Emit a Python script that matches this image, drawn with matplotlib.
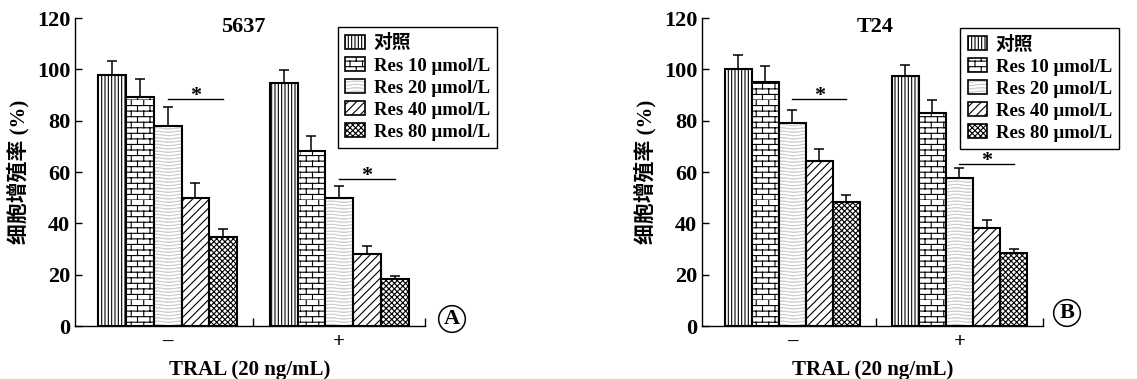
import warnings
warnings.filterwarnings('ignore')
import numpy as np
import matplotlib
matplotlib.use('Agg')
import matplotlib.pyplot as plt
import matplotlib.hatch as mhatch
from matplotlib.path import Path
from matplotlib.patches import Patch
from matplotlib.legend_handler import HandlerTuple

# ---------------- data ----------------
series_labels = ['对照', 'Res 10 μmol/L', 'Res 20 μmol/L', 'Res 40 μmol/L', 'Res 80 μmol/L']
group_labels = ['–', '+']
panel_titles = ['5637', 'T24']
panel_letters = ['A', 'B']

mean_5637_minus = [97.8, 89.2, 78.0, 49.8, 34.8]
err_5637_minus = [5.3, 7.2, 7.2, 5.9, 3.0]
mean_5637_plus = [94.8, 68.1, 49.7, 28.0, 18.3]
err_5637_plus = [5.1, 5.8, 4.9, 3.2, 1.1]

mean_t24_minus = [100.1, 95.1, 79.2, 64.1, 48.5]
err_t24_minus = [5.5, 6.1, 4.9, 5.0, 2.5]
mean_t24_plus = [97.3, 83.0, 57.7, 38.1, 28.4]
err_t24_plus = [4.5, 4.9, 3.8, 3.3, 1.5]

sig_5637 = [88.3, 57.3]   # height of significance bar (minus, plus)
sig_t24 = [88.3, 63.2]

y_ticks = [0, 20, 40, 60, 80, 100, 120]


# ---------------- custom hatches ----------------
class BrickHatch(mhatch.HatchPatternBase):
    def __init__(self, hatch, density):
        n = hatch.count('b')
        self.rows = 18
        self.cols = 8
        self.num_vertices = (self.rows * 2 + self.rows * self.cols * 2) if n else 0

    def set_vertices_and_codes(self, vertices, codes):
        rows, cols = self.rows, self.cols
        h = 1.0 / rows
        i = 0
        for r in range(rows):
            y = r * h
            vertices[i] = (0.0, y)
            vertices[i + 1] = (1.0, y)
            codes[i] = Path.MOVETO
            codes[i + 1] = Path.LINETO
            i += 2
            off = 0.5 / cols if r % 2 else 0.0
            for c in range(cols):
                x = c / cols + off
                vertices[i] = (x, y)
                vertices[i + 1] = (x, y + h)
                codes[i] = Path.MOVETO
                codes[i + 1] = Path.LINETO
                i += 2


class WaveHatch(mhatch.HatchPatternBase):
    def __init__(self, hatch, density):
        n = hatch.count('w')
        self.nlines = n * density
        self.npts = 41
        self.num_vertices = self.nlines * self.npts

    def set_vertices_and_codes(self, vertices, codes):
        xs = np.linspace(0.0, 1.0, self.npts)
        for k in range(self.nlines):
            y0 = (k + 0.5) / self.nlines
            ys = y0 + 0.007 * np.sin(2 * np.pi * 4 * xs)
            sl = slice(k * self.npts, (k + 1) * self.npts)
            vertices[sl, 0] = xs
            vertices[sl, 1] = ys
            codes[sl] = Path.LINETO
            codes[k * self.npts] = Path.MOVETO


mhatch._hatch_types.append(BrickHatch)
mhatch._hatch_types.append(WaveHatch)

plt.rcParams['hatch.linewidth'] = 0.8
plt.rcParams['font.family'] = ['Liberation Serif', 'Noto Sans CJK SC']
plt.rcParams['font.weight'] = 'bold'
plt.rcParams['axes.linewidth'] = 1.0

hatches = ['|||||', 'b', 'wwwww', '////', 'xxxxxx']
wave_color = '#cccccc'

fig = plt.figure(figsize=(11.37, 3.79), dpi=100)

W, H = 1137.0, 379.0
axes_px = [(75, 53, 350, 308), (702, 53, 341, 308)]
legend_px = [(338, 27), (960, 28)]
letter_px = [(452, 319), (1067, 313)]
title_x = [0.48, 0.507]

panels = [
    (mean_5637_minus, err_5637_minus, mean_5637_plus, err_5637_plus, sig_5637),
    (mean_t24_minus, err_t24_minus, mean_t24_plus, err_t24_plus, sig_t24),
]

width = 0.162
offsets = (np.arange(5) - 2) * width

for p, (m0, e0, m1, e1, sig) in enumerate(panels):
    l, b, w, h = axes_px[p]
    ax = fig.add_axes([l / W, b / H, w / W, h / H])
    means = [m0, m1]
    errs = [e0, e1]
    handles = []
    for s in range(5):
        xs = np.arange(2) + offsets[s]
        vals = [means[g][s] for g in range(2)]
        ers = [errs[g][s] for g in range(2)]
        if s == 2:
            ax.bar(xs, vals, width, color='white', edgecolor=wave_color,
                   hatch=hatches[s], linewidth=0, zorder=1)
            ax.bar(xs, vals, width, fill=False, edgecolor='black',
                   linewidth=1.5, zorder=1.5)
            hp = (Patch(facecolor='white', edgecolor=wave_color, hatch=hatches[s], linewidth=0),
                  Patch(fill=False, edgecolor='black', linewidth=1.2))
        else:
            ax.bar(xs, vals, width, color='white', edgecolor='black',
                   hatch=hatches[s], linewidth=1.5, zorder=1)
            hp = Patch(facecolor='white', edgecolor='black', hatch=hatches[s], linewidth=1.2)
        handles.append(hp)
        ax.errorbar(xs, vals, yerr=[np.zeros(2), ers], fmt='none', ecolor='black',
                    elinewidth=1.1, capsize=3.5, capthick=1.1, zorder=0.5)

    # significance markers
    for g in range(2):
        x1 = g + offsets[2]
        x2 = g + offsets[4]
        ax.plot([x1, x2], [sig[g], sig[g]], color='black', lw=1.0)
        ax.text((x1 + x2) / 2, sig[g] - 0.8, '*', ha='center', va='baseline',
                fontsize=16, fontweight='bold')

    ax.set_xlim(-0.54, 1.5)
    ax.set_ylim(0, 120)
    ax.set_yticks(y_ticks)
    ax.set_xticks([0, 1])
    ax.set_xticklabels(group_labels, fontsize=15)
    ax.set_xticks([0.5, 1.5], minor=True)
    ax.tick_params(axis='x', which='major', length=0, pad=4)
    ax.tick_params(axis='x', which='minor', direction='in', length=6, width=1.0)
    ax.tick_params(axis='y', direction='in', length=5, width=1.0, labelsize=16, pad=3.5)
    for lab in ax.get_yticklabels():
        lab.set_fontweight('bold')
    for sp in ['top', 'right']:
        ax.spines[sp].set_visible(False)
    ax.set_xlabel('TRAL (20 ng/mL)', fontsize=15, fontweight='bold', labelpad=6)
    ax.set_ylabel('细胞增殖率 (%)', fontsize=15, fontweight='bold', labelpad=5)
    ax.text(title_x[p], 0.97, panel_titles[p], transform=ax.transAxes,
            ha='center', va='center', fontsize=16, fontweight='bold')

    lx, ly = legend_px[p]
    leg = ax.legend(handles, series_labels, loc='upper left',
                    bbox_to_anchor=(lx / W, 1 - ly / H), bbox_transform=fig.transFigure,
                    prop={'size': 13.5, 'weight': 'bold'},
                    frameon=True, fancybox=False, framealpha=1,
                    edgecolor='black', borderaxespad=0, borderpad=0.4,
                    handlelength=1.05, handleheight=0.75, handletextpad=0.45,
                    labelspacing=0.25,
                    handler_map={tuple: HandlerTuple(ndivide=1, pad=0)})
    leg.get_frame().set_linewidth(1.0)
    leg.set_zorder(5)

    cx, cy = letter_px[p]
    fig.text(cx / W, 1 - cy / H, panel_letters[p], ha='center', va='center',
             fontsize=16, fontweight='bold',
             bbox=dict(boxstyle='circle,pad=0.15', fc='white', ec='black', lw=1.1))

fig.savefig('out.png', dpi=100)
